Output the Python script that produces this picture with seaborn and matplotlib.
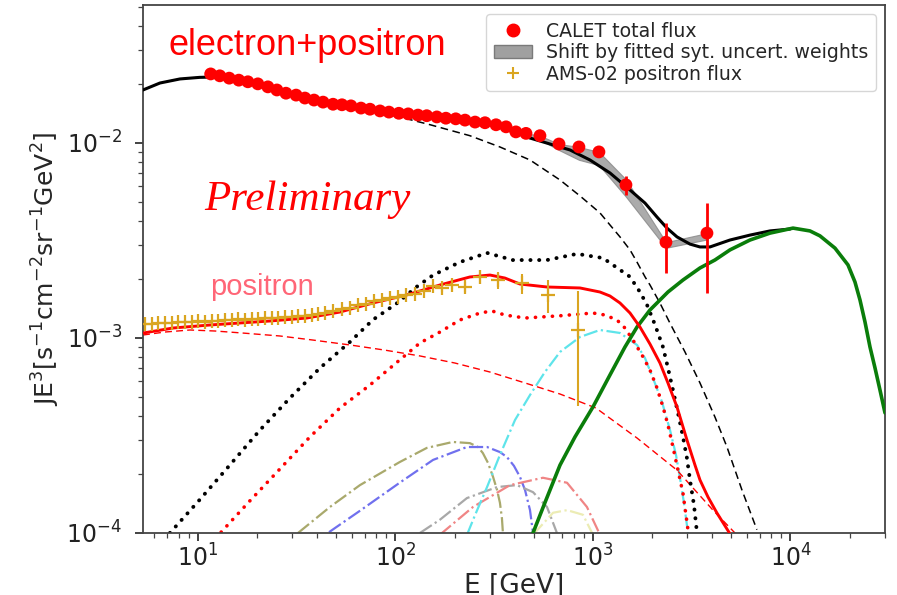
import matplotlib
matplotlib.use("Agg")
import matplotlib.pyplot as plt
import seaborn as sns
from matplotlib.lines import Line2D
from matplotlib.patches import Patch

# ---------------- data ----------------
calet_E = [11.6, 12.9, 14.4, 16.1, 17.9, 20.1, 22.6, 25.1, 27.9, 31.4, 34.8, 38.7, 43.0, 48.3, 53.6,
           59.5, 66.9, 74.3, 83.5, 92.7, 104, 116, 130, 144, 162, 180, 202, 225, 253, 284,
           323, 363, 407, 458, 539, 673, 849, 1072, 1469, 2342, 3777]
calet_F = [0.0226, 0.0221, 0.0215, 0.0210, 0.0206, 0.0201, 0.0194, 0.0187, 0.0180, 0.0176,
           0.0170, 0.0166, 0.0162, 0.0158, 0.0157, 0.0155, 0.0151, 0.0149, 0.0146, 0.0144,
           0.0142, 0.0141, 0.0139, 0.0138, 0.0136, 0.0134, 0.0133, 0.0131, 0.0128, 0.0127,
           0.0124, 0.0121, 0.0114, 0.0112, 0.0109, 0.00988, 0.00954, 0.0090, 0.0061, 0.0031, 0.00345]
calet_err_E = [673, 849, 1072, 1469, 2342, 3777]
calet_err_F = [0.00988, 0.00954, 0.0090, 0.0061, 0.0031, 0.00345]
calet_elo = [0.0003, 0.0004, 0.0005, 0.0007, 0.00094, 0.00175]
calet_ehi = [0.0003, 0.0004, 0.0005, 0.0007, 0.00079, 0.00147]

band_E = [407, 458, 539, 673, 849, 1072, 1469, 2342, 3777]
band_hi = [0.0114, 0.0112, 0.0109, 0.00988, 0.00954, 0.0090, 0.0065, 0.0031, 0.00345]
band_lo = [0.0114, 0.0110, 0.0104, 0.0092, 0.0082, 0.0077, 0.0053, 0.0029, 0.0032]

ams_E = [5.39, 5.85, 6.27, 6.81, 7.38, 7.92, 8.59, 9.33, 10.0, 10.85, 11.77, 12.63, 13.70, 14.86,
         15.94, 17.30, 18.77, 20.13, 21.8, 23.7, 25.4, 27.6, 29.9, 32.1, 34.8, 37.8, 40.5, 44.0,
         48.3, 53.6, 58.8, 64.6, 70.9, 77.8, 85.4, 93.8, 103, 113, 125.5, 139.4, 154.9, 172,
         193, 225, 268, 330, 437, 591, 839]
ams_F = [1.18e-3, 1.18e-3, 1.19e-3, 1.19e-3, 1.19e-3, 1.21e-3, 1.21e-3, 1.21e-3, 1.22e-3, 1.21e-3,
         1.22e-3, 1.22e-3, 1.24e-3, 1.24e-3, 1.25e-3, 1.24e-3, 1.25e-3, 1.25e-3, 1.27e-3, 1.27e-3,
         1.27e-3, 1.28e-3, 1.28e-3, 1.30e-3, 1.30e-3, 1.31e-3, 1.33e-3, 1.35e-3, 1.38e-3, 1.41e-3,
         1.43e-3, 1.48e-3, 1.49e-3, 1.55e-3, 1.57e-3, 1.60e-3, 1.62e-3, 1.66e-3, 1.68e-3, 1.74e-3,
         1.85e-3, 1.80e-3, 1.87e-3, 1.83e-3, 2.06e-3, 1.98e-3, 1.91e-3, 1.66e-3, 1.10e-3]
ams_err = [2e-5, 2e-5, 2e-5, 2e-5, 2e-5, 2e-5, 2e-5, 2e-5, 2e-5, 2e-5,
           2e-5, 2e-5, 2e-5, 2e-5, 2e-5, 2e-5, 2e-5, 2e-5, 2e-5, 2e-5,
           2e-5, 2e-5, 2e-5, 2e-5, 2e-5, 2e-5, 2e-5, 3e-5, 3e-5, 3e-5,
           3e-5, 3e-5, 3e-5, 4e-5, 4e-5, 4e-5, 4e-5, 5e-5, 5e-5, 6e-5,
           7e-5, 8e-5, 9e-5, 1.1e-4, 1.6e-4, 2.0e-4, 2.2e-4, 3.2e-4, 6.5e-4]

# model curves
tot_E = [5.27, 6.42, 8.11, 10.2, 12.2, 14.5, 18.3, 23.1, 29.2, 36.9, 46.6, 58.8, 83.5, 133, 212,
         301, 427, 480, 606, 765, 966, 1219, 1540, 1834, 2110, 2370, 2663, 3099, 3482, 3913,
         4940, 6237, 7874, 9942]
tot_F = [0.0187, 0.0203, 0.0213, 0.0217, 0.0218, 0.0213, 0.0203, 0.0191, 0.0176, 0.0166,
         0.0158, 0.0153, 0.0146, 0.0138, 0.0131, 0.0125, 0.0111, 0.0106, 0.00988, 0.00921,
         0.00818, 0.00702, 0.00574, 0.00492, 0.00417, 0.00366, 0.00330, 0.00303, 0.00293, 0.00293,
         0.00318, 0.00337, 0.00354, 0.00362]

grn_E = [497, 571, 681, 811, 1000, 1219, 1452, 1671, 1944, 2397, 2856, 3482, 4147, 4940, 6237,
         7874, 10300, 12550, 14100, 16800, 19550, 21210, 22490, 23840, 25270, 26790, 28390, 30100]
grn_F = [1.0e-4, 1.43e-4, 2.23e-4, 3.11e-4, 4.43e-4, 6.46e-4, 8.99e-4, 1.138e-3, 1.392e-3, 1.721e-3,
         1.983e-3, 2.286e-3, 2.512e-3, 2.83e-3, 3.18e-3, 3.45e-3, 3.66e-3, 3.54e-3, 3.34e-3, 2.89e-3,
         2.37e-3, 1.937e-3, 1.566e-3, 1.208e-3, 8.99e-4, 7.02e-4, 5.41e-4, 4.13e-4]

bdash_E = [5.27, 6.42, 8.11, 10.2, 12.2, 14.5, 18.3, 23.1, 29.2, 36.9, 46.6, 58.8, 74.3, 105, 150,
           238, 338, 480, 681, 860, 1085, 1219, 1370, 1540, 1671, 1834, 1944, 2184, 2455, 2923,
           3482, 4147, 4770, 5681, 6760]
bdash_F = [0.0187, 0.0203, 0.0213, 0.0217, 0.0218, 0.0213, 0.0203, 0.0191, 0.0176, 0.0165,
           0.0156, 0.0152, 0.0147, 0.0136, 0.0124, 0.0109, 0.00954, 0.00818, 0.00646, 0.00535,
           0.00438, 0.00380, 0.00330, 0.00283, 0.00245, 0.00206, 0.00187, 0.00151, 0.00119,
           8.48e-4, 5.88e-4, 3.93e-4, 2.76e-4, 1.66e-4, 1.04e-4]

bdot_E = [7.21, 10.2, 14.5, 20.6, 29.2, 41.5, 58.8, 76.9, 102, 128, 155, 212, 291, 393, 585,
          830, 1124, 1540, 1730, 1877, 2060, 2262, 2397, 2541, 2694, 2856, 2991, 3099, 3247, 3363]
bdot_F = [1.0e-4, 1.48e-4, 2.23e-4, 3.37e-4, 4.92e-4, 7.02e-4, 9.54e-4, 1.24e-3, 1.51e-3, 1.83e-3,
          2.10e-3, 2.45e-3, 2.73e-3, 2.51e-3, 2.51e-3, 2.70e-3, 2.57e-3, 2.06e-3, 1.72e-3, 1.48e-3,
          1.17e-3, 8.99e-4, 7.02e-4, 5.41e-4, 4.13e-4, 3.11e-4, 2.42e-4, 1.87e-4, 1.39e-4, 1.0e-4]

rsol_E = [5.27, 7.47, 11.5, 16.3, 23.1, 35.6, 52.4, 76.9, 114, 168, 238, 301, 358, 427, 585,
          860, 1085, 1219, 1370, 1540, 1730, 1944, 2184, 2397, 2663, 2991, 3285, 3482, 3822,
          4244, 5056]
rsol_F = [1.06e-3, 1.125e-3, 1.166e-3, 1.194e-3, 1.222e-3, 1.266e-3, 1.359e-3, 1.512e-3, 1.662e-3,
          1.87e-3, 2.055e-3, 2.103e-3, 2.03e-3, 1.891e-3, 1.826e-3, 1.805e-3, 1.721e-3, 1.642e-3,
          1.512e-3, 1.343e-3, 1.138e-3, 9.31e-4, 7.44e-4, 5.88e-4, 4.43e-4, 3.0e-4, 2.23e-4,
          1.87e-4, 1.53e-4, 1.266e-4, 9.54e-5]

rdot_E = [13.1, 18.3, 26.0, 36.9, 52.4, 74.3, 105, 133, 168, 212, 268, 308, 358, 453, 681,
          1000, 1150, 1323, 1452, 1594, 1771, 1944, 2110, 2262, 2397, 2541, 2694, 2856, 3027]
rdot_F = [1.01e-4, 1.46e-4, 2.13e-4, 3.11e-4, 4.38e-4, 5.74e-4, 7.71e-4, 9.43e-4, 1.073e-3,
          1.237e-3, 1.343e-3, 1.376e-3, 1.312e-3, 1.266e-3, 1.30e-3, 1.343e-3, 1.312e-3, 1.237e-3,
          1.125e-3, 9.76e-4, 8.18e-4, 6.85e-4, 5.54e-4, 4.43e-4, 3.58e-4, 2.76e-4, 2.10e-4,
          1.60e-4, 1.04e-4]

rdash_E = [5.27, 6.81, 9.11, 12.2, 16.7, 26.0, 38.2, 58.8, 87.5, 133, 200, 301, 453, 681, 1035,
           1671, 2663, 4051, 5236]
rdash_F = [1.036e-3, 1.073e-3, 1.099e-3, 1.086e-3, 1.061e-3, 1.024e-3, 9.76e-4, 9.21e-4, 8.68e-4,
           8.09e-4, 7.44e-4, 6.69e-4, 5.88e-4, 5.16e-4, 4.375e-4, 3.07e-4, 2.10e-4, 1.31e-4, 1.0e-4]

cyan_E = [230, 253, 291, 338, 403, 480, 571, 681, 860, 1085, 1370, 1671, 1834, 2013, 2236, 2455,
          2633, 2758, 2889, 3027]
cyan_F = [9.76e-5, 1.237e-4, 1.722e-4, 2.512e-4, 3.797e-4, 5.10e-4, 6.69e-4, 8.48e-4, 1.012e-3,
          1.099e-3, 1.061e-3, 9.21e-4, 7.89e-4, 6.23e-4, 4.70e-4, 3.374e-4, 2.512e-4, 1.915e-4,
          1.425e-4, 1.0e-4]

olive_E = [32.1, 46.6, 66.1, 105, 144, 195, 238, 262, 277, 294, 312, 327, 338, 346, 350]
olive_F = [1.0e-4, 1.36e-4, 1.76e-4, 2.31e-4, 2.73e-4, 2.93e-4, 2.89e-4, 2.76e-4, 2.57e-4, 2.29e-4,
           1.94e-4, 1.66e-4, 1.43e-4, 1.19e-4, 1.0e-4]

blue_E = [46.1, 66.1, 105, 155, 230, 291, 338, 367, 398, 427, 453, 480, 497]
blue_F = [1.01e-4, 1.30e-4, 1.81e-4, 2.37e-4, 2.76e-4, 2.76e-4, 2.60e-4, 2.45e-4, 2.21e-4, 1.94e-4,
          1.66e-4, 1.31e-4, 1.0e-4]

gray_E = [133, 168, 230, 327, 412, 497, 585, 657]
gray_F = [1.0e-4, 1.17e-4, 1.51e-4, 1.72e-4, 1.76e-4, 1.62e-4, 1.36e-4, 1.0e-4]

salmon_E = [168, 247, 380, 558, 739, 932, 1085]
salmon_F = [9.8e-5, 1.36e-4, 1.76e-4, 1.92e-4, 1.81e-4, 1.36e-4, 9.8e-5]

pale_E = [497, 628, 739, 890, 1000]
pale_F = [9.8e-5, 1.27e-4, 1.31e-4, 1.24e-4, 9.8e-5]

x_limits = [5.27, 30100]
y_limits = [1e-4, 0.051]

# ---------------- plotting ----------------
sns.set_style("ticks")
plt.rcParams['font.family'] = ['DejaVu Sans']
plt.rcParams['mathtext.fontset'] = 'dejavusans'

fig, ax = plt.subplots(figsize=(8.97, 5.95), dpi=100)
fig.subplots_adjust(left=143 / 897, right=885 / 897, top=1 - 5 / 595, bottom=1 - 533 / 595)
ax.set_xscale('log')
ax.set_yscale('log')


def curve(E, F, **kw):
    sns.lineplot(x=E, y=F, ax=ax, sort=False, estimator=None, legend=False, **kw)


# small dash-dot components
curve(olive_E, olive_F, color='#a9a96c', lw=1.6, linestyle='-.')
curve(blue_E, blue_F, color='#7070ee', lw=1.6, linestyle='-.')
curve(gray_E, gray_F, color='#a8a8a8', lw=1.6, linestyle='-.')
curve(salmon_E, salmon_F, color='#f08585', lw=1.6, linestyle='-.')
curve(pale_E, pale_F, color='#ececb4', lw=1.6, linestyle='-.')
curve(cyan_E, cyan_F, color='#5ee4ea', lw=1.6, linestyle='-.')

# positron components
curve(rdash_E, rdash_F, color='red', lw=1.0, linestyle=(0, (5, 3)))
curve(rdot_E, rdot_F, color='red', lw=2.6, linestyle=(0, (0.05, 2.3)), dash_capstyle='round')
curve(bdot_E, bdot_F, color='black', lw=2.8, linestyle=(0, (0.05, 2.2)), dash_capstyle='round')
curve(bdash_E, bdash_F, color='black', lw=1.1, linestyle=(0, (5, 3)))

# band and totals
ax.fill_between(band_E, band_lo, band_hi, color='#9c9c9c', alpha=0.85, lw=0.8, edgecolor='#8a8a8a', zorder=3)
curve(tot_E, tot_F, color='black', lw=2.2, zorder=4)
curve(grn_E, grn_F, color='#0a7d0a', lw=2.6, zorder=4)
curve(rsol_E, rsol_F, color='red', lw=2.1, zorder=4)

# data points
ax.errorbar(ams_E, ams_F, yerr=ams_err, fmt='none', ecolor='#DAA520', elinewidth=1.5, zorder=5)
sns.scatterplot(x=ams_E, y=ams_F, ax=ax, marker='+', s=90, linewidth=1.6, color='#DAA520',
                zorder=6, legend=False)
ax.errorbar(calet_err_E, calet_err_F, yerr=[calet_elo, calet_ehi], fmt='none', ecolor='red',
            elinewidth=2.0, zorder=6)
sns.scatterplot(x=calet_E, y=calet_F, ax=ax, color='red', s=85, edgecolor='none', zorder=7,
                legend=False)

ax.set_xlim(*x_limits)
ax.set_ylim(*y_limits)

for sp in ax.spines.values():
    sp.set_color('#444444')
    sp.set_linewidth(1.3)
ax.tick_params(which='major', direction='out', length=6, width=1.2, labelsize=17, colors='#222222')
ax.tick_params(which='minor', direction='out', length=3.5, width=0.9, colors='#444444')
ax.tick_params(axis='y', which='major', pad=9)
ax.tick_params(axis='x', which='major', pad=2)

ax.set_xlabel('E [GeV]', fontsize=19, labelpad=1)
ax.set_ylabel(r'JE$^3$[s$^{-1}$cm$^{-2}$sr$^{-1}$GeV$^2$]', fontsize=18, labelpad=3)

ax.text(0.034, 0.924, 'electron+positron', transform=ax.transAxes, color='red', fontsize=26,
        family=['Liberation Sans'], va='center', ha='left')
ax.text(0.09, 0.466, 'positron', transform=ax.transAxes, color='#ff6677', fontsize=21,
        family=['Liberation Sans'], va='center', ha='left')
ax.text(0.083, 0.631, 'Preliminary', transform=ax.transAxes, color='red', fontsize=31,
        family=['Liberation Serif'], style='italic', va='center', ha='left')

handles = [
    Line2D([], [], marker='o', color='red', linestyle='none', markersize=9),
    Patch(facecolor='#a0a0a0', edgecolor='#7a7a7a'),
    Line2D([], [], marker='+', color='#DAA520', linestyle='none', markersize=9, markeredgewidth=1.5),
]
labels = ['CALET total flux', 'Shift by fitted syt. uncert. weights', 'AMS-02 positron flux']
leg = ax.legend(handles, labels, loc='upper right', fontsize=13.6, frameon=True, fancybox=True,
                labelspacing=0.12, borderpad=0.4, handletextpad=0.75, borderaxespad=0.5,
                handlelength=2.0)
leg.get_frame().set_edgecolor('#cccccc')

fig.savefig('out.png', dpi=100)
